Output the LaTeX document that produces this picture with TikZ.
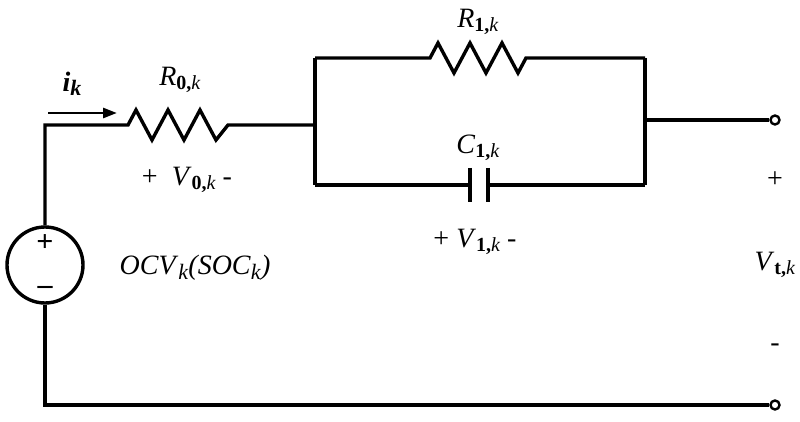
\documentclass[tikz,border=0pt]{standalone}
\usepackage{fontspec}
\setmainfont{Liberation Serif}
\usetikzlibrary{arrows.meta}
\newcommand{\lab}[3]{\textit{#1}\raisebox{-0.35ex}{\fontsize{20}{20}\selectfont\textbf{#2}\textit{#3}}}
\begin{document}
\begin{tikzpicture}[x=1pt,y=-1pt,line width=3.4pt,
  txt/.style={font=\fontsize{28}{30}\selectfont,inner sep=0pt},
  term/.style={circle,draw,fill=white,line width=2.4pt,minimum size=9pt,inner sep=0pt}]
\useasboundingbox (0,0) rectangle (800,422);
% source
\node[circle,draw,minimum size=76pt,inner sep=0pt] (src) at (45,265) {};
\node[font=\fontsize{30}{30}\selectfont\bfseries,inner sep=0pt] (sp) at (45,243) {+};
\node[font=\fontsize{30}{30}\selectfont\bfseries,inner sep=0pt] (sm) at (45,290) {\textendash};
\coordinate (tl) at (45,125);
\coordinate (bl) at (45,405);
\node[term] (t1) at (775,120) {};
\node[term] (t2) at (775,405) {};
% R0
\coordinate (r0a) at (128,125);
\draw (src.north) -- (tl) -- (r0a) -- ++(8,-15) -- ++(16,30) -- ++(16,-30) -- ++(16,30) -- ++(16,-30) -- ++(16,30) -- ++(12,-15) coordinate (r0e) -- (315,125) coordinate (pl);
\draw (src.south) -- (bl) -- (t2);
% parallel
\coordinate (pt) at (315,58);
\coordinate (pb) at (315,185);
\coordinate (qt) at (645,58);
\coordinate (qb) at (645,185);
\draw (pt) -- (pb);
\draw (qt) -- (qb);
\draw (pt) -- (430,58) -- ++(8,-15) -- ++(16,30) -- ++(16,-30) -- ++(16,30) -- ++(16,-30) -- ++(16,30) -- ++(8,-15) -- (qt);
\draw (pb) -- (470,185) coordinate (ca);
\draw (488,185) coordinate (cb) -- (qb);
\draw (470,168) -- (470,202);
\draw (488,168) -- (488,202);
\draw (645,120) -- (t1);
% current arrow
\coordinate (ia) at (48,113);
\coordinate (ib) at (117,113);
\draw[line width=2.8pt,-{Triangle[length=14pt,width=10pt]}] (ia) -- (ib);
% labels
\node[txt] (ik) at (72,84) {\textbf{\textit{i}}\raisebox{-0.35ex}{\fontsize{22}{22}\selectfont\textbf{\textit{k}}}};
\node[txt] (lr0) at (180,80) {\lab{R}{0,}{k}};
\node[txt] (lr1) at (478,22) {\lab{R}{1,}{k}};
\node[txt] (lc1) at (478,148) {\lab{C}{1,}{k}};
\node[txt] (lv0) at (187,180) {+\ \ \lab{V}{0,}{k} -};
\node[txt] (lv1) at (475,242) {+ \lab{V}{1,}{k} -};
\node[txt] (ocv) at (195,268) {\textit{OCV}\raisebox{-0.35ex}{\fontsize{22}{22}\selectfont\textit{k}}\textit{(SOC}\raisebox{-0.35ex}{\fontsize{22}{22}\selectfont\textit{k}}\textit{)}};
\node[txt] (vt) at (775,265) {\lab{V}{t,}{k}};
\node[txt] (vp) at (775,180) {+};
\node[txt] (vm) at (775,348) {-};
\end{tikzpicture}
\end{document}
